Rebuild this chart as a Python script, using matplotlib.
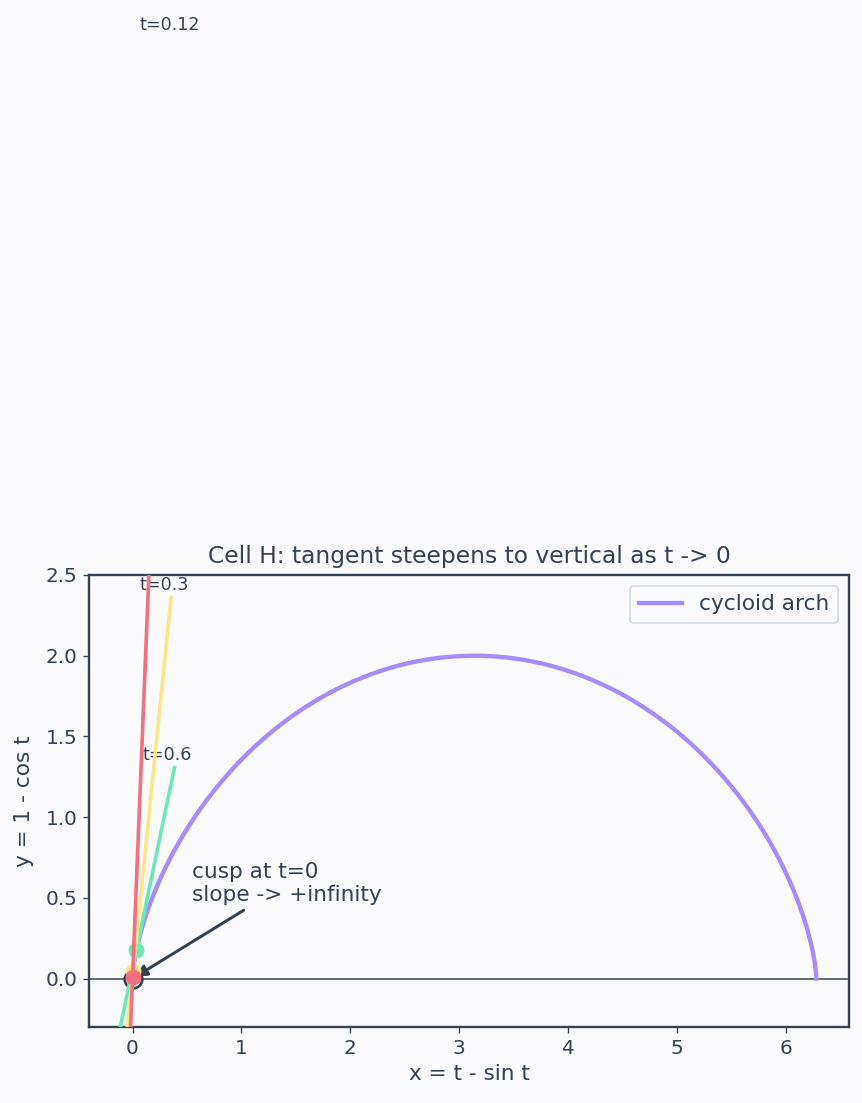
import numpy as np
import matplotlib.pyplot as plt

# tangent sample points and their colours
t_samples = [0.6, 0.3, 0.12]
t_labels = ["t=0.6", "t=0.3", "t=0.12"]
t_colors = ["#6ee7b7", "#fde68a", "#f2707f"]
half_dx = 0.35

arch_color = "#a78bfa"
ink = "#334155"
bg = "#fbfbfe"

t = np.linspace(0, 2 * np.pi, 600)
x = t - np.sin(t)
y = 1 - np.cos(t)

plt.rcParams['font.family'] = ['DejaVu Sans']
fig = plt.figure(figsize=(862 / 120, 1103 / 120), dpi=120, facecolor=bg)
ax = fig.add_axes([89 / 862, 76 / 1103, 760 / 862, 452 / 1103])
ax.set_facecolor(bg)

ax.axhline(0, color=ink, lw=0.9, zorder=1)
ax.plot(x, y, color=arch_color, lw=2.6, label="cycloid arch", zorder=3)

# cusp marker
ax.plot([0], [0], 'o', ms=10.5, mfc='none', mec=ink, mew=1.6, zorder=4)

for tt, lab, c in zip(t_samples, t_labels, t_colors):
    x0 = tt - np.sin(tt)
    y0 = 1 - np.cos(tt)
    m = np.sin(tt) / (1 - np.cos(tt))
    xs = np.array([x0 - half_dx, x0 + half_dx])
    ys = y0 + m * (xs - x0)
    ax.plot(xs, ys, color=c, lw=2.2, zorder=5)
    ax.plot([x0], [y0], 'o', color=c, ms=8.5, zorder=5)
    ax.text(x0 + 0.06, ys[1] + 0.02, lab, fontsize=10.5, color=ink,
            ha='left', va='bottom', clip_on=False)

ax.annotate("cusp at t=0\nslope -> +infinity", xy=(0, 0), xytext=(0.55, 0.48),
            fontsize=13, color=ink,
            arrowprops=dict(arrowstyle='-|>', color=ink, lw=1.8, mutation_scale=14))

ax.set_xlim(-0.4, 2 * np.pi + 0.3)
ax.set_ylim(-0.3, 2.5)
ax.set_title("Cell H: tangent steepens to vertical as t -> 0", fontsize=14, color=ink, pad=7.5)
ax.set_xlabel("x = t - sin t", fontsize=13, color=ink)
ax.set_ylabel("y = 1 - cos t", fontsize=13, color=ink, labelpad=7)
ax.tick_params(colors=ink, labelsize=12)
for s in ax.spines.values():
    s.set_color(ink)
    s.set_linewidth(1.4)

leg = ax.legend(loc='upper right', fontsize=13, labelcolor=ink, facecolor=bg)
leg.get_frame().set_edgecolor('#cbd5e1')

fig.savefig("out.png", dpi=120, facecolor=bg)
